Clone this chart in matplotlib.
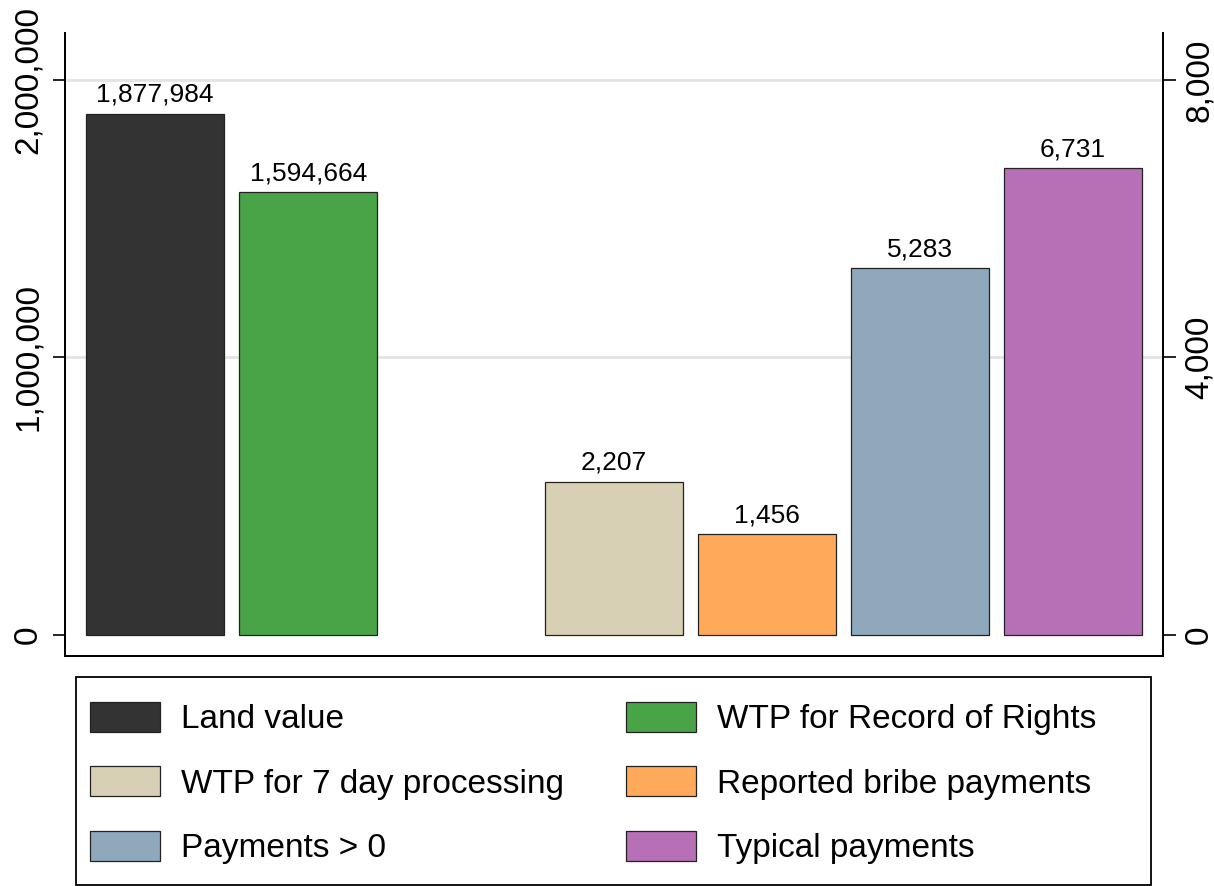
import numpy as np
import matplotlib.pyplot as plt
from matplotlib.ticker import FuncFormatter
from matplotlib.patches import Rectangle

plt.rcParams['font.family'] = ['Liberation Sans', 'DejaVu Sans']

# left axis series (land values)
left_labels = ['Land value', 'WTP for Record of Rights']
left_values = [1877984, 1594664]
left_colors = ['#333333', '#48a447']

# right axis series (payments)
right_labels = ['WTP for 7 day processing', 'Reported bribe payments',
                'Payments > 0', 'Typical payments']
right_values = [2207, 1456, 5283, 6731]
right_colors = ['#d7d0b4', '#ffaa5a', '#90a8bc', '#b76fb6']

left_ticks = [0, 1000000, 2000000]
right_ticks = [0, 4000, 8000]

fig = plt.figure(figsize=(12.14, 8.86), dpi=100)
ax = fig.add_axes([65/1214, 1 - 656/886, (1163-65)/1214, (656-33)/886])
ax2 = ax.twinx()

width = 0.9
left_pos = np.arange(len(left_values))
right_pos = np.arange(len(right_values)) + len(left_values) + 1  # one empty slot

handles = []
for p, v, c, lab in zip(left_pos, left_values, left_colors, left_labels):
    b = ax.bar(p, v, width, color=c, edgecolor='#222222', linewidth=0.9, label=lab)
    handles.append(b)
    ax.annotate('{:,}'.format(v), (p, v), xytext=(0, 5), textcoords='offset points',
                ha='center', va='bottom', fontsize=19)
for p, v, c, lab in zip(right_pos, right_values, right_colors, right_labels):
    b = ax2.bar(p, v, width, color=c, edgecolor='#222222', linewidth=0.9, label=lab)
    handles.append(b)
    ax2.annotate('{:,}'.format(v), (p, v), xytext=(0, 5), textcoords='offset points',
                 ha='center', va='bottom', fontsize=19)

ax.set_xlim(-0.59, 6.59)
ylo, yhi = -0.0757e6, 2.169e6
ax.set_ylim(ylo, yhi)
ax2.set_ylim(ylo * 0.004, yhi * 0.004)

ax.set_yticks(left_ticks)
ax2.set_yticks(right_ticks)
fmt = FuncFormatter(lambda x, pos: '{:,}'.format(int(x)))
ax.yaxis.set_major_formatter(fmt)
ax2.yaxis.set_major_formatter(fmt)
ax.set_xticks([])

for a in (ax, ax2):
    a.tick_params(axis='y', labelsize=24, length=9, width=1.2, pad=6)
    for lab in a.get_yticklabels():
        lab.set_rotation(90)
        lab.set_va('center')
    a.spines['top'].set_visible(False)
    for s in ('left', 'right', 'bottom'):
        a.spines[s].set_linewidth(1.3)

ax.yaxis.grid(True, color='#e4e4e4', linewidth=2)
ax.set_axisbelow(True)
ax.yaxis.get_gridlines()[0].set_visible(False)

# legend filled row by row (matplotlib fills by column)
order = [handles[i] for i in (0, 2, 4, 1, 3, 5)]
leg = fig.legend(order, [h.get_label() for h in order], ncol=2,
                 loc='upper left', bbox_to_anchor=(90/1214, 1 - 702/886),
                 fontsize=24, frameon=False, handlelength=2.1, handleheight=1.0,
                 handletextpad=0.63, labelspacing=0.93, columnspacing=1.85,
                 borderpad=0, borderaxespad=0)
fig.patches.append(Rectangle((76/1214, 1 - 885/886), (1151-76)/1214, (885-677)/886,
                             transform=fig.transFigure, fill=False,
                             edgecolor='black', linewidth=1.3))

fig.savefig('out.png', dpi=100)
